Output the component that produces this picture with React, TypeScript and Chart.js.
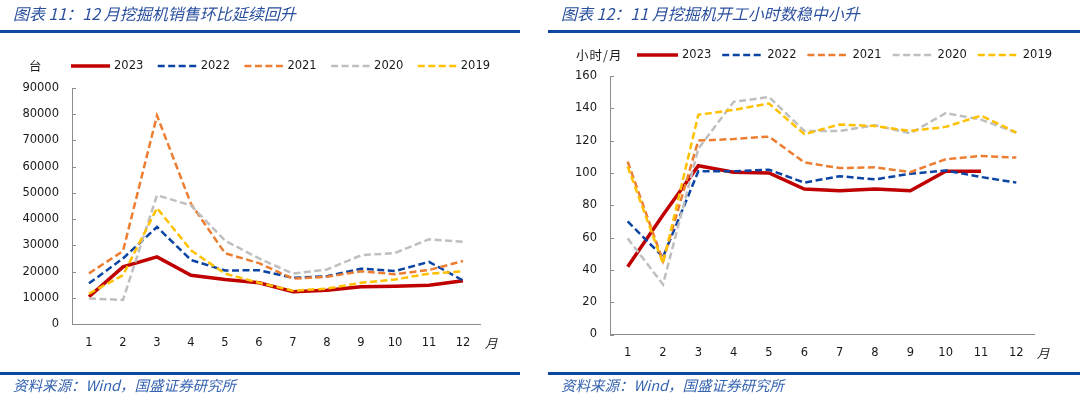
import React, { useEffect, useRef } from "react";
import { Chart, registerables } from "chart.js";

Chart.register(...registerables);

// ---------- data ----------
const months = ["1", "2", "3", "4", "5", "6", "7", "8", "9", "10", "11", "12"];
const years = ["2023", "2022", "2021", "2020", "2019"];

// Chart 11: monthly excavator sales (units)
const sales2023 = [10400, 21800, 25600, 18600, 17000, 15700, 12300, 12900, 14200, 14400, 14800, 16500];
const sales2022 = [15500, 25000, 37000, 24400, 20400, 20500, 17600, 18200, 21100, 20200, 23700, 16600];
const sales2021 = [19300, 27800, 79500, 45800, 27000, 23200, 17300, 18000, 20100, 19000, 20600, 24000];
const sales2020 = [9700, 9200, 49100, 45200, 31800, 25000, 19200, 20800, 26200, 27100, 32300, 31400];
const sales2019 = [11600, 18600, 44200, 28100, 19200, 15700, 12700, 13500, 15700, 17000, 19200, 20100];

// Chart 12: monthly working hours (hours / month)
const hours2023 = [42, 74, 104.5, 100.5, 100, 90, 89, 90, 89, 101, 101, null];
const hours2022 = [70, 48, 101, 101, 102, 94, 98, 96, 99.5, 101.5, 97.5, 94];
const hours2021 = [107, 45.5, 120, 121, 122.5, 106.5, 103, 103.5, 100.5, 108.5, 110.5, 109.5];
const hours2020 = [59.5, 31, 115, 144, 147, 126, 126, 129.5, 124.5, 137, 133, 125];
const hours2019 = [104, 44, 136, 139, 143, 124, 130, 129, 126, 128.5, 135.5, 125];

const salesTicksMax = 90000;
const salesStep = 10000;
const hoursTicksMax = 160;
const hoursStep = 20;

// ---------- styles ----------
const seriesStyle = [
  { color: "#C00000", width: 3.5, dash: [] as number[] },
  { color: "#0B44A3", width: 2.5, dash: [7, 3.5] },
  { color: "#ED7D31", width: 2.5, dash: [7, 3.5] },
  { color: "#BFBFBF", width: 2.5, dash: [7, 3.5] },
  { color: "#FFC000", width: 2.5, dash: [7, 3.5] },
];
const drawOrder = [4, 3, 2, 1, 0];

const AXIS_COLOR = "#8C8C8C";
const TEXT_COLOR = "#1a1a1a";
const TICK_FONT = { family: "DejaVu Sans", size: 11.5 };
const BLUE = "#0D47A1";
const TITLE_COLOR = "#2A4F9E";

const legendPlugin = {
  id: "customLegend",
  afterDraw(chart: any, _args: any, opts: any) {
    const { ctx } = chart;
    chart.data.datasets.forEach((ds: any, i: number) => {
      const x = opts.x0 + i * opts.step;
      ctx.save();
      ctx.strokeStyle = ds.borderColor;
      ctx.lineWidth = ds.borderWidth;
      ctx.setLineDash(ds.borderDash || []);
      ctx.beginPath();
      ctx.moveTo(x, opts.y);
      ctx.lineTo(x + opts.len, opts.y);
      ctx.stroke();
      ctx.setLineDash([]);
      ctx.fillStyle = TEXT_COLOR;
      ctx.font = `${TICK_FONT.size}px "${TICK_FONT.family}"`;
      ctx.textBaseline = "middle";
      ctx.textAlign = "left";
      ctx.fillText(ds.label, x + opts.len + opts.gap, opts.y + 0.5);
      ctx.restore();
    });
  },
};

const innerTicksPlugin = {
  id: "innerTicks",
  afterDraw(chart: any, _args: any, opts: any) {
    const { ctx, chartArea } = chart;
    const ys = chart.scales.y;
    ctx.save();
    ctx.strokeStyle = AXIS_COLOR;
    ctx.lineWidth = 1;
    ys.ticks.forEach((_t: any, i: number) => {
      const py = Math.round(ys.getPixelForTick(i)) + 0.5;
      ctx.beginPath();
      ctx.moveTo(chartArea.left, py);
      ctx.lineTo(chartArea.left + opts.len, py);
      ctx.stroke();
    });
    ctx.restore();
  },
};

function makeConfig(
  series: (number | null)[][],
  max: number,
  step: number,
  layout: { yWidth: number; padRight: number; padTop: number; padBottom: number },
  legend: { x0: number; y: number; step: number; len: number; gap: number }
): any {
  return {
    type: "line",
    data: {
      labels: months,
      datasets: series.map((d, i) => ({
        label: years[i],
        data: d,
        borderColor: seriesStyle[i].color,
        backgroundColor: seriesStyle[i].color,
        borderWidth: seriesStyle[i].width,
        borderDash: seriesStyle[i].dash,
        pointRadius: 0,
        tension: 0,
        fill: false,
        spanGaps: false,
        order: drawOrder[i],
      })),
    },
    options: {
      animation: false,
      responsive: false,
      devicePixelRatio: 1,
      layout: { padding: { left: 0, right: layout.padRight, top: layout.padTop, bottom: layout.padBottom } },
      plugins: {
        legend: { display: false },
        tooltip: { enabled: false },
        customLegend: legend,
        innerTicks: { len: 4 },
      },
      scales: {
        x: {
          type: "category",
          offset: true,
          grid: { display: false, drawTicks: false },
          border: { display: true, color: AXIS_COLOR, width: 1 },
          ticks: { color: TEXT_COLOR, font: TICK_FONT, padding: 12, maxRotation: 0, autoSkip: false },
          afterFit(scale: any) {
            scale.height = 30;
          },
        },
        y: {
          min: 0,
          max,
          grid: { display: false, drawTicks: false },
          border: { display: true, color: AXIS_COLOR, width: 1 },
          ticks: {
            stepSize: step,
            color: TEXT_COLOR,
            font: TICK_FONT,
            padding: 13,
            callback: (v: any) => String(v),
          },
          afterFit(scale: any) {
            scale.width = layout.yWidth;
          },
        },
      },
    },
    plugins: [legendPlugin, innerTicksPlugin],
  };
}

function ChartCanvas(props: { config: any; left: number; width: number; height: number }) {
  const ref = useRef<HTMLCanvasElement | null>(null);
  useEffect(() => {
    if (!ref.current) return;
    const chart = new Chart(ref.current, props.config);
    return () => chart.destroy();
  }, []);
  return (
    <canvas
      ref={ref}
      width={props.width}
      height={props.height}
      style={{ position: "absolute", left: props.left, top: 0, width: props.width, height: props.height }}
    />
  );
}

const cjk = '"Noto Sans CJK SC", "Noto Sans", sans-serif';

function Text(props: { x: number; y: number; size: number; color: string; italic?: boolean; children: any; spacing?: number }) {
  return (
    <div
      style={{
        position: "absolute",
        left: props.x,
        top: props.y - 10,
        height: 20,
        lineHeight: "20px",
        fontFamily: cjk,
        fontSize: props.size,
        color: props.color,
        fontStyle: props.italic ? "italic" : "normal",
        whiteSpace: "pre",
        letterSpacing: props.spacing ? props.spacing : 0,
      }}
    >
      {props.children}
    </div>
  );
}

function Rule(props: { x: number; y: number; w: number }) {
  return <div style={{ position: "absolute", left: props.x, top: props.y, width: props.w, height: 3, background: BLUE }} />;
}

export default function App() {
  const leftConfig = makeConfig(
    [sales2023, sales2022, sales2021, sales2020, sales2019],
    salesTicksMax,
    salesStep,
    { yWidth: 72, padRight: 60, padTop: 88, padBottom: 43 },
    { x0: 71, y: 66, step: 86.7, len: 39, gap: 4 }
  );
  const rightConfig = makeConfig(
    [hours2023, hours2022, hours2021, hours2020, hours2019],
    hoursTicksMax,
    hoursStep,
    { yWidth: 70, padRight: 46, padTop: 76, padBottom: 32.5 },
    { x0: 97, y: 55, step: 85.2, len: 41, gap: 4 }
  );
  return (
    <div style={{ position: "absolute", left: 0, top: 0, width: 1080, height: 397, background: "#fff", overflow: "hidden" }}>
      <ChartCanvas config={leftConfig} left={0} width={540} height={397} />
      <ChartCanvas config={rightConfig} left={540} width={540} height={397} />

      <Text x={13} y={13} size={16} color={TITLE_COLOR} italic>
        {"图表 11：12 月挖掘机销售环比延续回升"}
      </Text>
      <Text x={561} y={13} size={16} color={TITLE_COLOR} italic>
        {"图表 12：11 月挖掘机开工小时数稳中小升"}
      </Text>
      <Rule x={0} y={30} w={520} />
      <Rule x={548} y={30} w={532} />

      <Text x={29} y={66} size={12.5} color={TEXT_COLOR}>
        台
      </Text>
      <Text x={576} y={55} size={12.5} color={TEXT_COLOR} spacing={1}>
        小时/月
      </Text>
      <Text x={485} y={343} size={12.5} color={TEXT_COLOR} italic>
        月
      </Text>
      <Text x={1037} y={353} size={12.5} color={TEXT_COLOR} italic>
        月
      </Text>

      <Rule x={0} y={372} w={520} />
      <Rule x={548} y={372} w={532} />
      <Text x={13} y={385} size={14.5} color="#3563B0" italic>
        {"资料来源：Wind，国盛证券研究所"}
      </Text>
      <Text x={561} y={385} size={14.5} color="#3563B0" italic>
        {"资料来源：Wind，国盛证券研究所"}
      </Text>
    </div>
  );
}
